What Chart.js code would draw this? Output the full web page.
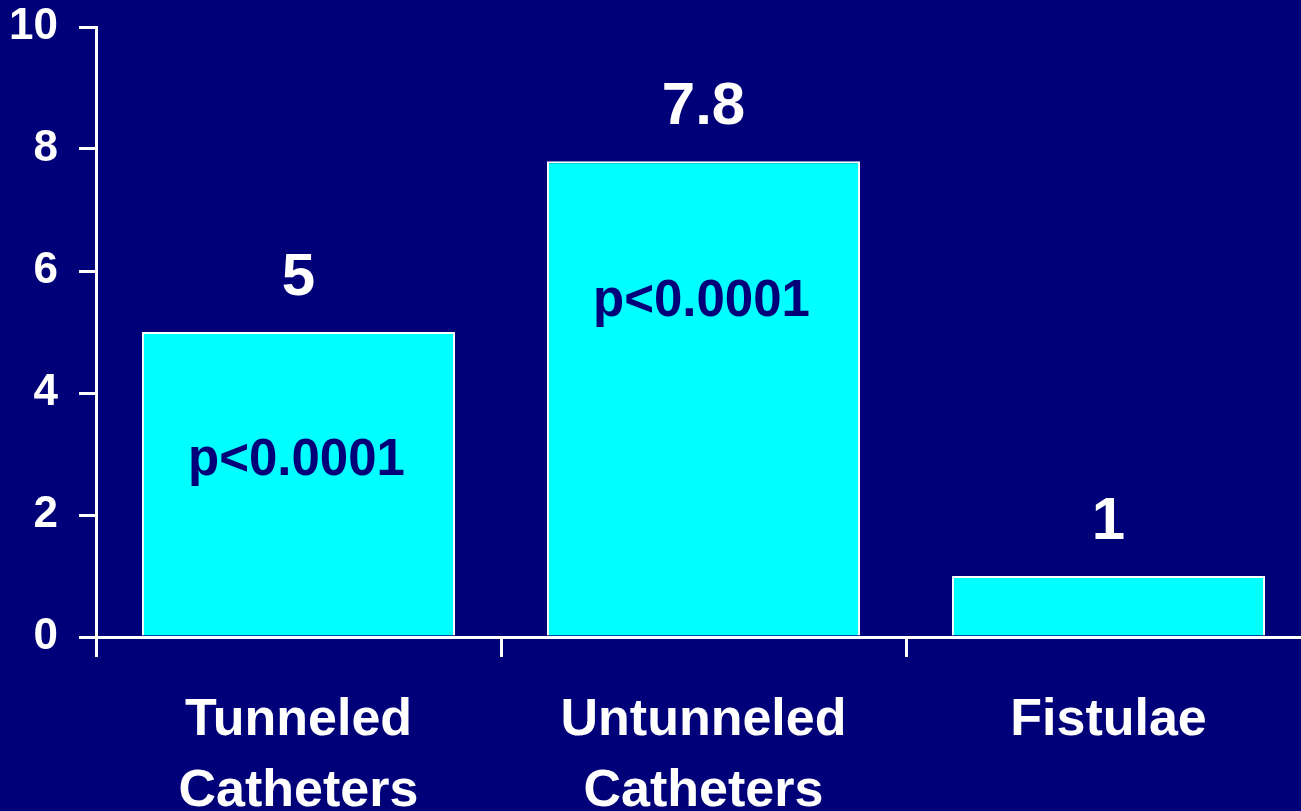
<!DOCTYPE html>
<html>
<head>
<meta charset="utf-8">
<script src="https://cdn.jsdelivr.net/npm/chart.js@4/dist/chart.umd.min.js"></script>
<style>
  html, body { margin: 0; padding: 0; background: #000078; overflow: hidden; }
  #wrap { width: 1312px; height: 811px; }
  canvas { display: block; }
</style>
</head>
<body>
<div id="wrap"><canvas id="chart" width="1312" height="811"></canvas></div>
<script>
// Access types and their relative rates
const categories = [['Tunneled', 'Catheters'], ['Untunneled', 'Catheters'], ['Fistulae']];
const rates = [5, 7.8, 1];
const pValues = ['p<0.0001', 'p<0.0001', ''];
const yTicks = [0, 2, 4, 6, 8, 10];

const NAVY = '#000078';
const FONT = '"Liberation Sans", Arial, Helvetica, sans-serif';

// Draws the value above each bar and the p-value inside it
const barText = {
  id: 'barText',
  afterDatasetsDraw(chart, args, opts) {
    const ctx = chart.ctx;
    const yScale = chart.scales.y;
    const meta = chart.getDatasetMeta(0);
    ctx.save();
    ctx.textAlign = 'center';
    meta.data.forEach((bar, i) => {
      ctx.font = 'bold 60px ' + FONT;
      ctx.fillStyle = '#ffffff';
      ctx.textBaseline = 'alphabetic';
      ctx.fillText(String(rates[i]), bar.x, bar.y - opts.valueGap);
      if (pValues[i]) {
        ctx.font = 'bold 51px ' + FONT;
        ctx.fillStyle = NAVY;
        ctx.textBaseline = 'middle';
        ctx.fillText(pValues[i], bar.x - 2, yScale.getPixelForValue(opts.noteLevels[i]));
      }
    });
    ctx.restore();
  }
};

new Chart(document.getElementById('chart'), {
  type: 'bar',
  data: {
    labels: categories,
    datasets: [{
      data: rates,
      backgroundColor: '#00ffff',
      borderColor: '#ffffff',
      borderWidth: 2,
      categoryPercentage: 1,
      barPercentage: 0.773
    }]
  },
  options: {
    responsive: false,
    devicePixelRatio: 1,
    animation: false,
    layout: { padding: { top: 27, right: 1, bottom: 0, left: 0 } },
    plugins: {
      legend: { display: false },
      tooltip: { enabled: false },
      barText: { valueGap: 37, noteLevels: [2.89, 5.49, 0] }
    },
    scales: {
      x: {
        offset: true,
        grid: {
          offset: true,
          drawOnChartArea: false,
          lineWidth: 3,
          tickLength: 20,
          tickWidth: 3,
          tickColor: '#ffffff'
        },
        border: { display: true, color: '#ffffff', width: 3 },
        ticks: {
          color: '#ffffff',
          font: { family: FONT, weight: 'bold', size: 52, lineHeight: 1.37 },
          padding: 28,
          maxRotation: 0,
          autoSkip: false
        },
        afterFit(scale) { scale.height = 174; }
      },
      y: {
        min: yTicks[0],
        max: yTicks[yTicks.length - 1],
        afterBuildTicks(scale) { scale.ticks = yTicks.map(v => ({ value: v })); },
        grid: {
          drawOnChartArea: false,
          lineWidth: 3,
          tickLength: 17,
          tickWidth: 3,
          tickColor: '#ffffff'
        },
        border: { display: true, color: '#ffffff', width: 3 },
        ticks: {
          color: '#ffffff',
          font: { family: FONT, weight: 'bold', size: 44 },
          padding: 21
        },
        afterFit(scale) {
          scale.width = 96;
          scale.paddingTop = 0;
          scale.paddingBottom = 0;
        }
      }
    }
  },
  plugins: [barText]
});
</script>
</body>
</html>
